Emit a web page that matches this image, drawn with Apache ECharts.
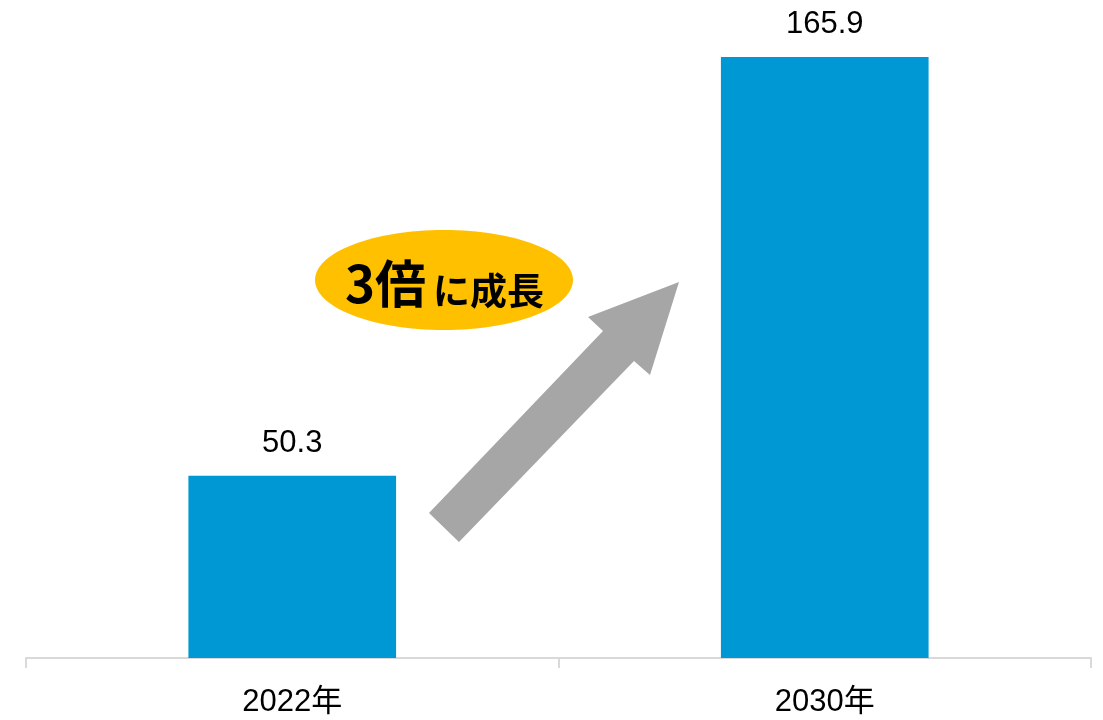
<!DOCTYPE html>
<html>
<head>
<meta charset="utf-8">
<script src="https://cdn.jsdelivr.net/npm/echarts@6/dist/echarts.min.js"></script>
<style>html,body{margin:0;padding:0;background:#fff}#c{width:1103px;height:720px}</style>
</head>
<body>
<div id="c"></div>
<script>
const categories = ['2022年', '2030年'];
const values = [50.3, 165.9];
const badgeMain = '3倍';
const badgeSub = 'に成長';

const chart = echarts.init(document.getElementById('c'), null, {renderer: 'canvas'});
const fontFam = '"Liberation Sans", Arial, "Noto Sans CJK JP", sans-serif';
chart.setOption({
  animation: false,
  backgroundColor: '#ffffff',
  grid: {left: 26, right: 12, top: 6, bottom: 62, containLabel: false},
  xAxis: {
    type: 'category',
    data: categories,
    axisLine: {show: true, lineStyle: {color: '#d9d9d9', width: 2}},
    axisTick: {show: true, length: 10, lineStyle: {color: '#d9d9d9', width: 2}},
    axisLabel: {color: '#000', fontSize: 31, fontFamily: fontFam, margin: 29}
  },
  yAxis: {
    type: 'value', min: 0, max: 180, show: false,
    splitLine: {show: false}
  },
  series: [{
    type: 'bar',
    data: values,
    barWidth: '39%',
    itemStyle: {color: '#0098d4'},
    label: {
      show: true, position: 'top', distance: 17,
      color: '#000', fontSize: 31, fontFamily: fontFam,
      formatter: p => p.value.toFixed(1)
    }
  }],
  graphic: [
    {
      type: 'polygon',
      shape: {points: [[429,513],[459,542],[634,361],[650,375],[679,282],[588,317],[603,331]]},
      style: {fill: '#a6a6a6'}
    },
    {
      type: 'ellipse',
      shape: {cx: 444, cy: 280, rx: 129, ry: 50},
      style: {fill: '#ffc000'}
    },
    {
      type: 'text',
      x: 345, y: 284,
      style: {text: badgeMain, fontSize: 51, fontWeight: 'bold', fill: '#000',
        fontFamily: '"Noto Sans CJK JP", sans-serif', textAlign: 'left', textVerticalAlign: 'middle'}
    },
    {
      type: 'text',
      x: 433, y: 291,
      style: {text: badgeSub, fontSize: 37, fontWeight: 'bold', fill: '#000',
        fontFamily: '"Noto Sans CJK JP", sans-serif', textAlign: 'left', textVerticalAlign: 'middle'}
    }
  ]
});
</script>
</body>
</html>
